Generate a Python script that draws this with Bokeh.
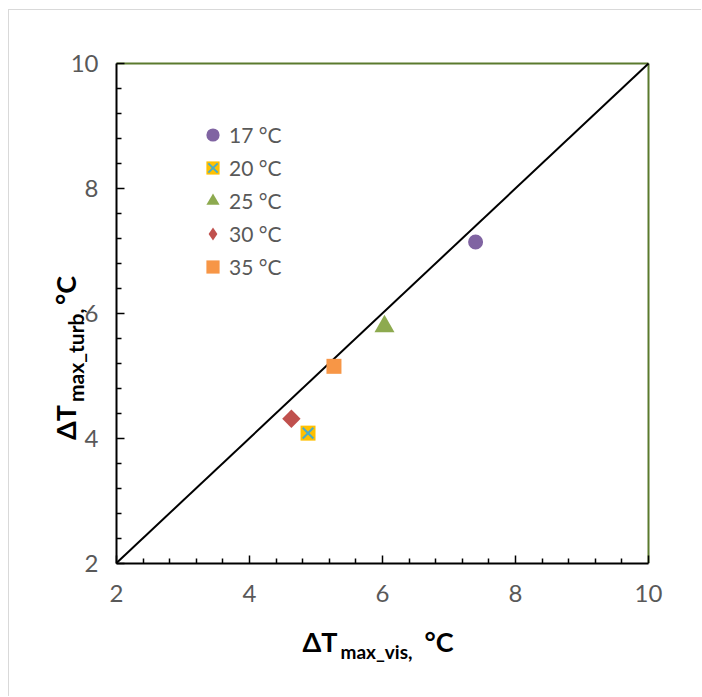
import numpy as np
from bokeh.plotting import figure
from bokeh.models import ColumnDataSource, FixedTicker, Legend, LegendItem, Label, Range1d
from bokeh.embed import file_html
from bokeh.resources import INLINE

# ---- data ----
series = ["17 °C", "20 °C", "25 °C", "30 °C", "35 °C"]
dT_vis = [7.40, 4.88, 6.03, 4.63, 5.27]
dT_turb = [7.14, 4.08, 5.79, 4.31, 5.15]
line_x = [2, 10]
line_y = [2, 10]
axis_lo, axis_hi = 2, 10
major_ticks = [2, 4, 6, 8, 10]
minor_ticks = [2.4, 2.8, 3.2, 3.6, 4.4, 4.8, 5.2, 5.6, 6.4, 6.8, 7.2, 7.6,
               8.4, 8.8, 9.2, 9.6]

TICK_COLOR = "#595959"
OLIVE = "#5B7A2E"

# ---- layout geometry (canvas pixels) ----
W, H = 693, 687
PX_L, PX_R = 107.0, 639.0      # canvas x of axis_lo / axis_hi
PX_T, PX_B = 53.0, 552.5       # canvas y of axis_hi / axis_lo
sx = (PX_R - PX_L) / (axis_hi - axis_lo)
sy = (PX_B - PX_T) / (axis_hi - axis_lo)
x_range = Range1d(axis_lo - PX_L / sx, axis_hi + (W - PX_R) / sx)
y_range = Range1d(axis_lo - (H - PX_B) / sy, axis_hi + PX_T / sy)

p = figure(width=W, height=H, x_range=x_range, y_range=y_range,
           output_backend="svg", toolbar_location=None,
           min_border_left=0, min_border_right=0, min_border_top=0,
           min_border_bottom=0)
p.styles = {"margin-left": "8px", "margin-top": "9px",
            "border-left": "1px solid #D9D9D9", "border-top": "1px solid #D9D9D9"}
p.grid.visible = False
p.background_fill_color = "white"
p.border_fill_color = "white"
p.outline_line_color = None

for ax in (p.xaxis[0], p.yaxis[0]):
    ax.fixed_location = axis_lo
    ax.bounds = (axis_lo, axis_hi)
    ax.ticker = FixedTicker(ticks=major_ticks, minor_ticks=minor_ticks)
    ax.axis_line_color = "black"
    ax.axis_line_width = 2
    ax.major_tick_in = 8
    ax.major_tick_out = 0
    ax.minor_tick_in = 5
    ax.minor_tick_out = 0
    ax.major_tick_line_color = "black"
    ax.minor_tick_line_color = "black"
    ax.major_tick_line_width = 1.5
    ax.minor_tick_line_width = 1.5
    ax.major_label_text_font = "Lato"
    ax.major_label_text_font_size = "24px"
    ax.major_label_text_color = TICK_COLOR
p.xaxis.major_label_standoff = 22
p.yaxis.major_label_standoff = 18

# top / right frame edges (olive)
p.line(line_x, [axis_hi, axis_hi], line_color=OLIVE, line_width=2)
p.line([axis_hi, axis_hi], line_y, line_color=OLIVE, line_width=2)

# diagonal 1:1 line
p.line(line_x, line_y, line_color="black", line_width=2)

def src(i):
    return ColumnDataSource(dict(x=[dT_vis[i]], y=[dT_turb[i]]))

r17 = p.scatter("x", "y", source=src(0), marker="circle", size=15,
                fill_color="#8064A2", line_color=None)
r20a = p.scatter("x", "y", source=src(1), marker="square", size=15,
                 fill_color="#FFC000", line_color=None)
r20b = p.scatter("x", "y", source=src(1), marker="x", size=15,
                 line_color="#4BACC6", line_width=2)
r25 = p.scatter("x", "y", source=src(2), marker="triangle", size=20,
                fill_color="#8DAA4F", line_color=None)
# diamond key (used for the legend swatch; hidden under the rotated square)
r30_key = p.scatter("x", "y", source=src(3), marker="diamond", size=15,
                    fill_color="#C0504D", line_color=None)
r30 = p.scatter("x", "y", source=src(3), marker="square", size=13, angle=np.pi / 4,
                fill_color="#C0504D", line_color=None)
r35 = p.scatter("x", "y", source=src(4), marker="square", size=15,
                fill_color="#F79646", line_color=None)

legend = Legend(items=[
    LegendItem(label=series[0], renderers=[r17]),
    LegendItem(label=series[1], renderers=[r20a, r20b]),
    LegendItem(label=series[2], renderers=[r25]),
    LegendItem(label=series[3], renderers=[r30_key]),
    LegendItem(label=series[4], renderers=[r35]),
], location=(187, 414), glyph_height=33, glyph_width=33, label_height=20,
   spacing=0, label_standoff=0, padding=0, margin=0,
   border_line_color=None, background_fill_alpha=0,
   label_text_font="Lato", label_text_font_size="21px", label_text_color=TICK_COLOR)
p.add_layout(legend)

# axis titles with subscripts (offsets in px from the axes corner)
bold = dict(text_font="Lato", text_font_style="bold", text_color="black",
            text_baseline="alphabetic")
# x title
p.add_layout(Label(x=axis_lo, y=axis_lo, x_offset=186, y_offset=-78, text="ΔT",
                   text_font_size="27px", text_align="left", **bold))
p.add_layout(Label(x=axis_lo, y=axis_lo, x_offset=224, y_offset=-88, text="max_vis,",
                   text_font_size="19px", text_align="left", **bold))
p.add_layout(Label(x=axis_lo, y=axis_lo, x_offset=337, y_offset=-78, text="°C",
                   text_font_size="27px", text_align="right", **bold))
# y title (rotated)
p.add_layout(Label(x=axis_lo, y=axis_lo, x_offset=-51, y_offset=123, text="ΔT",
                   angle=np.pi / 2, text_font_size="27px", text_align="left", **bold))
p.add_layout(Label(x=axis_lo, y=axis_lo, x_offset=-41, y_offset=161, text="max_turb,",
                   angle=np.pi / 2, text_font_size="21px", text_align="left", **bold))
p.add_layout(Label(x=axis_lo, y=axis_lo, x_offset=-51, y_offset=287, text="°C",
                   angle=np.pi / 2, text_font_size="27px", text_align="right", **bold))

open("out.html", "w").write(file_html(p, INLINE))
